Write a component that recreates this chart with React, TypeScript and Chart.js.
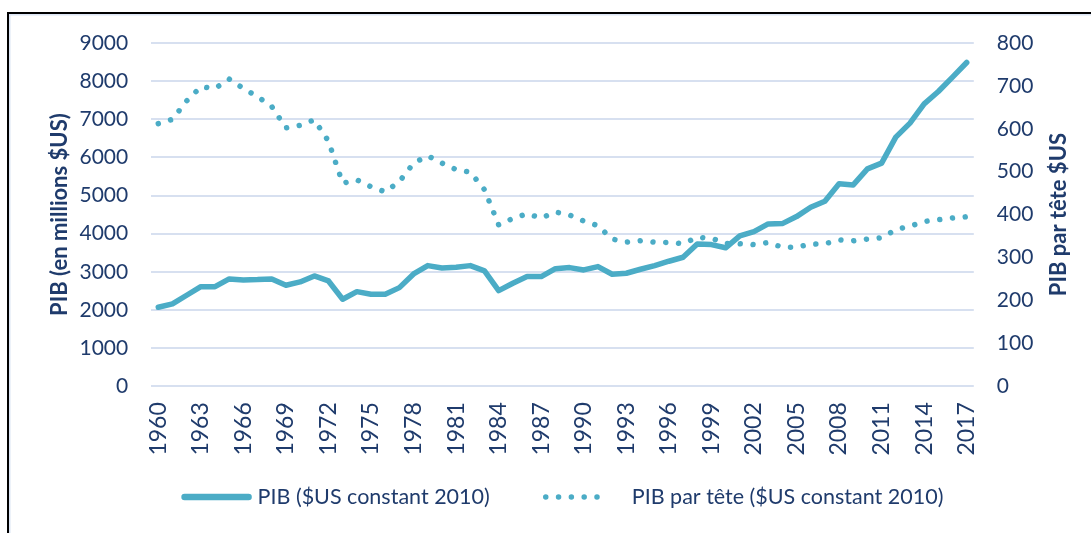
import React, { useEffect, useRef } from "react";
import { Chart, registerables } from "chart.js";

Chart.register(...registerables);

const years = [
  "1960", "1961", "1962", "1963", "1964", "1965", "1966", "1967", "1968", "1969",
  "1970", "1971", "1972", "1973", "1974", "1975", "1976", "1977", "1978", "1979",
  "1980", "1981", "1982", "1983", "1984", "1985", "1986", "1987", "1988", "1989",
  "1990", "1991", "1992", "1993", "1994", "1995", "1996", "1997", "1998", "1999",
  "2000", "2001", "2002", "2003", "2004", "2005", "2006", "2007", "2008", "2009",
  "2010", "2011", "2012", "2013", "2014", "2015", "2016", "2017",
];

const pibValues = [
  2070, 2157, 2385, 2611, 2611, 2813, 2787, 2795, 2813, 2647,
  2734, 2892, 2760, 2280, 2480, 2411, 2411, 2585, 2944, 3162,
  3101, 3119, 3162, 3023, 2506, 2700, 2874, 2874, 3083, 3110,
  3049, 3136, 2936, 2962, 3067, 3162, 3277, 3382, 3731, 3713,
  3630, 3941, 4054, 4256, 4264, 4448, 4694, 4851, 5306, 5279,
  5699, 5849, 6531, 6898, 7405, 7728, 8105, 8489,
];

const pibParTeteValues = [
  612, 622, 665, 698, 694, 716, 694, 675, 652, 602,
  608, 621, 571, 473, 481, 465, 453, 477, 520, 537,
  520, 505, 499, 458, 376, 391, 402, 392, 406, 399,
  385, 374, 343, 336, 339, 336, 335, 332, 347, 345,
  333, 332, 330, 335, 324, 324, 331, 332, 341, 339,
  343, 346, 365, 373, 384, 388, 392, 395,
];

const seriesLabels = ["PIB ($US constant 2010)", "PIB par tête ($US constant 2010)"];
const leftAxisTitle = "PIB (en millions $US)";
const rightAxisTitle = "PIB par tête $US";

const LINE_COLOR = "#4BACC6";
const TEXT_COLOR = "#1F3B6C";
const GRID_COLOR = "#D7E0F0";
const FONT = "Lato, 'Open Sans', sans-serif";

const axisTitlesPlugin = {
  id: "axisTitles",
  afterDraw(chart: any) {
    const { ctx, chartArea } = chart;
    const cy = (chartArea.top + chartArea.bottom) / 2;
    ctx.save();
    ctx.fillStyle = TEXT_COLOR;
    ctx.font = `bold 22px ${FONT}`;
    ctx.textAlign = "center";
    ctx.textBaseline = "middle";
    const items: [string, number][] = [
      [leftAxisTitle, 60],
      [rightAxisTitle, 1058.5],
    ];
    items.forEach(([t, x]) => {
      ctx.save();
      ctx.translate(x, cy);
      ctx.rotate(-Math.PI / 2);
      ctx.fillText(t, 0, 0);
      ctx.restore();
    });
    ctx.restore();
  },
};

// Legend drawn below the axis, centred on the plot area, styled from the datasets.
const lineLegendPlugin = {
  id: "lineLegend",
  afterDraw(chart: any) {
    const { ctx, chartArea } = chart;
    const y = 497;
    const sampleW = 70;
    const fontSize = 21.5;
    ctx.save();
    ctx.font = `${fontSize}px ${FONT}`;
    const datasets = chart.data.datasets;
    const textGaps = [6, 20];
    const itemGap = 52;
    const widths = datasets.map((d: any) => ctx.measureText(d.label).width);
    let total = 0;
    datasets.forEach((d: any, i: number) => {
      total += sampleW + textGaps[i] + widths[i];
      if (i < datasets.length - 1) total += itemGap;
    });
    let x = (chartArea.left + chartArea.right) / 2 - total / 2;
    datasets.forEach((d: any, i: number) => {
      ctx.save();
      ctx.strokeStyle = d.borderColor;
      ctx.lineCap = "round";
      if (d.borderDash && d.borderDash.length) {
        ctx.lineWidth = d.borderWidth;
        ctx.setLineDash(d.borderDash);
        ctx.beginPath();
        ctx.moveTo(x + 4, y);
        ctx.lineTo(x + sampleW - 8, y);
        ctx.stroke();
      } else {
        ctx.lineWidth = 6.5;
        ctx.setLineDash([]);
        ctx.beginPath();
        ctx.moveTo(x + 3, y);
        ctx.lineTo(x + sampleW - 3, y);
        ctx.stroke();
      }
      ctx.restore();
      ctx.fillStyle = TEXT_COLOR;
      ctx.textAlign = "left";
      ctx.textBaseline = "middle";
      ctx.fillText(d.label, x + sampleW + textGaps[i], y);
      x += sampleW + textGaps[i] + widths[i] + itemGap;
    });
    ctx.restore();
  },
};

export default function App() {
  const canvasRef = useRef<HTMLCanvasElement | null>(null);

  useEffect(() => {
    if (!canvasRef.current) return;
    const chart = new Chart(canvasRef.current, {
      type: "line",
      data: {
        labels: years,
        datasets: [
          {
            label: seriesLabels[0],
            data: pibValues,
            yAxisID: "y",
            borderColor: LINE_COLOR,
            backgroundColor: LINE_COLOR,
            borderWidth: 5.5,
            borderCapStyle: "round",
            borderJoinStyle: "round",
            pointRadius: 0,
            pointHoverRadius: 0,
            tension: 0,
            fill: false,
          },
          {
            label: seriesLabels[1],
            data: pibParTeteValues,
            yAxisID: "y1",
            borderColor: LINE_COLOR,
            backgroundColor: LINE_COLOR,
            borderWidth: 5.5,
            borderDash: [0.01, 12.8],
            borderCapStyle: "round",
            borderJoinStyle: "round",
            pointRadius: 0,
            pointHoverRadius: 0,
            tension: 0,
            fill: false,
          },
        ],
      },
      options: {
        responsive: false,
        animation: false,
        events: [],
        layout: { padding: { top: 43, bottom: 56.8, left: 35, right: 0 } },
        plugins: {
          tooltip: { enabled: false },
          title: { display: false },
          legend: { display: false },
        },
        scales: {
          x: {
            type: "category",
            offset: true,
            grid: { display: false, drawTicks: false },
            border: { display: false },
            ticks: {
              autoSkip: false,
              minRotation: 90,
              maxRotation: 90,
              padding: 16,
              color: TEXT_COLOR,
              font: { family: FONT, size: 23 },
              callback: function (this: any, value: any, index: number) {
                return index % 3 === 0 ? this.getLabelForValue(value) : null;
              },
            },
            afterFit(scale: any) {
              scale.height = 90;
            },
          },
          y: {
            type: "linear",
            position: "left",
            min: 0,
            max: 9000,
            grid: { color: GRID_COLOR, lineWidth: 2, drawTicks: false },
            border: { display: false },
            ticks: {
              stepSize: 1000,
              padding: 23,
              color: TEXT_COLOR,
              font: { family: FONT, size: 21 },
              callback: (v: any) => String(v),
            },
            afterFit(scale: any) {
              scale.width = 116.2;
            },
          },
          y1: {
            type: "linear",
            position: "right",
            min: 0,
            max: 800,
            grid: { display: false, drawTicks: false },
            border: { display: false },
            ticks: {
              stepSize: 100,
              padding: 23,
              color: TEXT_COLOR,
              font: { family: FONT, size: 21 },
              callback: (v: any) => String(v),
            },
            afterFit(scale: any) {
              scale.width = 117.2;
            },
          },
        },
      },
      plugins: [axisTitlesPlugin, lineLegendPlugin],
    });
    return () => chart.destroy();
  }, []);

  return (
    <div
      style={{
        position: "fixed",
        left: 0,
        top: 0,
        width: 1091,
        height: 533,
        background: "#fff",
        overflow: "hidden",
      }}
    >
      <canvas ref={canvasRef} width={1091} height={533} style={{ display: "block" }} />
      <div
        style={{
          position: "absolute",
          left: 7,
          top: 12,
          width: 1200,
          height: 600,
          borderLeft: "2px solid #000",
          borderTop: "2px solid #000",
          boxShadow: "inset 1.5px 1.5px 0 #DCE5F4",
          pointerEvents: "none",
        }}
      />
    </div>
  );
}
